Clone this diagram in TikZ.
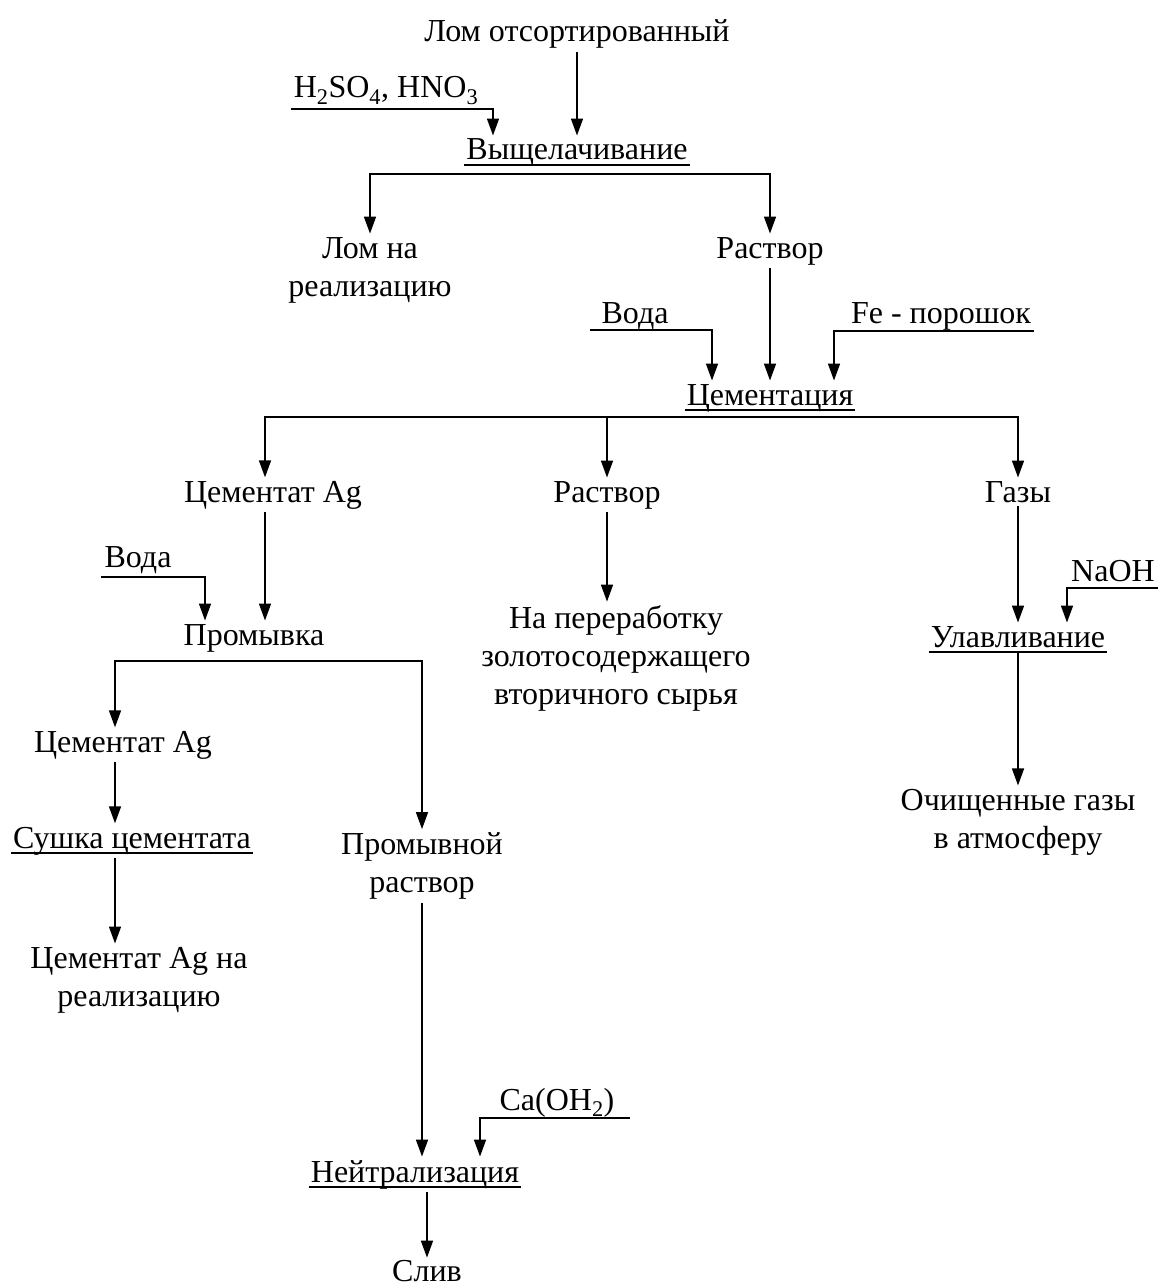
\documentclass[tikz,border=0pt]{standalone}
\usepackage{fontspec}
\setmainfont{Liberation Serif}
\usepackage{tikz}
\usetikzlibrary{arrows.meta}

\begin{document}
\begin{tikzpicture}[
    x=1pt, y=-1pt,
    font=\rmfamily\fontsize{32}{38}\selectfont,
    item/.style={anchor=base},
    multi/.style={align=center},
    feed/.style={anchor=base, inner xsep=3pt},
    stage/.style={anchor=base, inner xsep=2pt,
                append after command={([yshift=-5pt]\tikzlastnode.base west)
                edge[line width=1.2pt] ([yshift=-5pt]\tikzlastnode.base east)}},
    flow/.style={line width=1.6pt, -{Triangle[length=17pt, width=12pt]}}
]
    \useasboundingbox (0,0) rectangle (1158,1287);

    % Leaching
    \node[item] (sorted) at (577,42) {Лом отсортированный};
    \node[feed] (acid) at (386,98) {H\textsubscript{2}SO\textsubscript{4}, HNO\textsubscript{3}};
    \node[stage] (leach) at (577,160) {Выщелачивание};
    \node[multi] (scrap) at (370,270) {Лом на\\реализацию};
    \node[item] (sol) at (770,258) {Раствор};

    % Cementation
    \node[feed] (water) at (635,323) {Вода};
    \node[feed] (fe) at (941,323) {Fe - порошок};
    \node[stage] (cem) at (770,405) {Цементация};
    \node[item] (cemag) at (273,502) {Цементат Ag};
    \node[item] (sol2) at (607,502) {Раствор};
    \node[item] (gas) at (1018,502) {Газы};
    \node[multi] (recycle) at (616,658) {На переработку\\золотосодержащего\\вторичного сырья};

    % Washing
    \node[feed] (water2) at (138,567) {Вода};
    \node[item] (wash) at (254,645) {Промывка};
    \node[item] (cemag2) at (123,752) {Цементат Ag};
    \node[stage] (dry) at (132,848) {Сушка цементата};
    \node[multi] (product) at (139,980) {Цементат Ag на\\реализацию};
    \node[multi] (rinse) at (422,866) {Промывной\\раствор};

    % Neutralisation
    \node[feed] (lime) at (557,1110) {Ca(OH\textsubscript{2})};
    \node[stage] (neut) at (415,1182) {Нейтрализация};
    \node[item, inner ysep=2pt] (drain) at (427,1281) {Слив};

    % Gas cleaning
    \node[feed] (naoh) at (1113,581) {NaOH};
    \node[stage] (trap) at (1018,647) {Улавливание};
    \node[multi] (clean) at (1018,822) {Очищенные газы\\в атмосферу};

    % Lines
    \draw[flow] (sorted) -- (leach);
    \draw[flow] ([yshift=-11pt]acid.base west) -| ([xshift=-84pt]leach.north);
    \draw[flow] ([yshift=-14pt]leach.base) -| (scrap);
    \draw[flow] ([yshift=-14pt]leach.base) -| (sol);

    \draw[flow] (sol) -- (cem);
    \draw[flow] ([xshift=-8pt, yshift=-7pt]water.base west) -| ([xshift=-58pt]cem.north);
    \draw[flow] ([yshift=-8pt]fe.base east) -| ([xshift=64pt]cem.north);
    \draw[flow] ([yshift=-12pt]cem.base) -| ([xshift=-8pt]cemag.north);
    \draw[flow] ([yshift=-12pt]cem.base) -| (sol2);
    \draw[flow] ([yshift=-12pt]cem.base) -| (gas);
    \draw[flow] (sol2) -- (sol2 |- recycle.north);

    \draw[flow] ([xshift=-8pt]cemag.south) -- ([xshift=-8pt]cemag.south |- wash.north);
    \draw[flow] ([yshift=-10pt]water2.base west) -| ([xshift=-49pt]wash.north);
    \draw[flow] ([yshift=-16pt]wash.base) -| ([xshift=-8pt]cemag2.north);
    \draw[flow] ([yshift=-16pt]wash.base) -| (rinse);
    \draw[flow] ([xshift=-8pt]cemag2.south) -- ([xshift=-17pt]dry.north);
    \draw[flow] ([xshift=-17pt]dry.south) -- ([xshift=-24pt]product.north);

    \draw[flow] (rinse) -- (rinse |- neut.north);
    \draw[flow] ([xshift=12pt, yshift=-8pt]lime.base east) -| ([xshift=65pt]neut.north);
    \draw[flow] (neut.south -| drain) -- (drain);

    \draw[flow] (gas) -- (trap);
    \draw[flow] ([yshift=-7pt]naoh.base east) -| ([xshift=49pt]trap.north);
    \draw[flow] (trap) -- (clean);
\end{tikzpicture}
\end{document}
